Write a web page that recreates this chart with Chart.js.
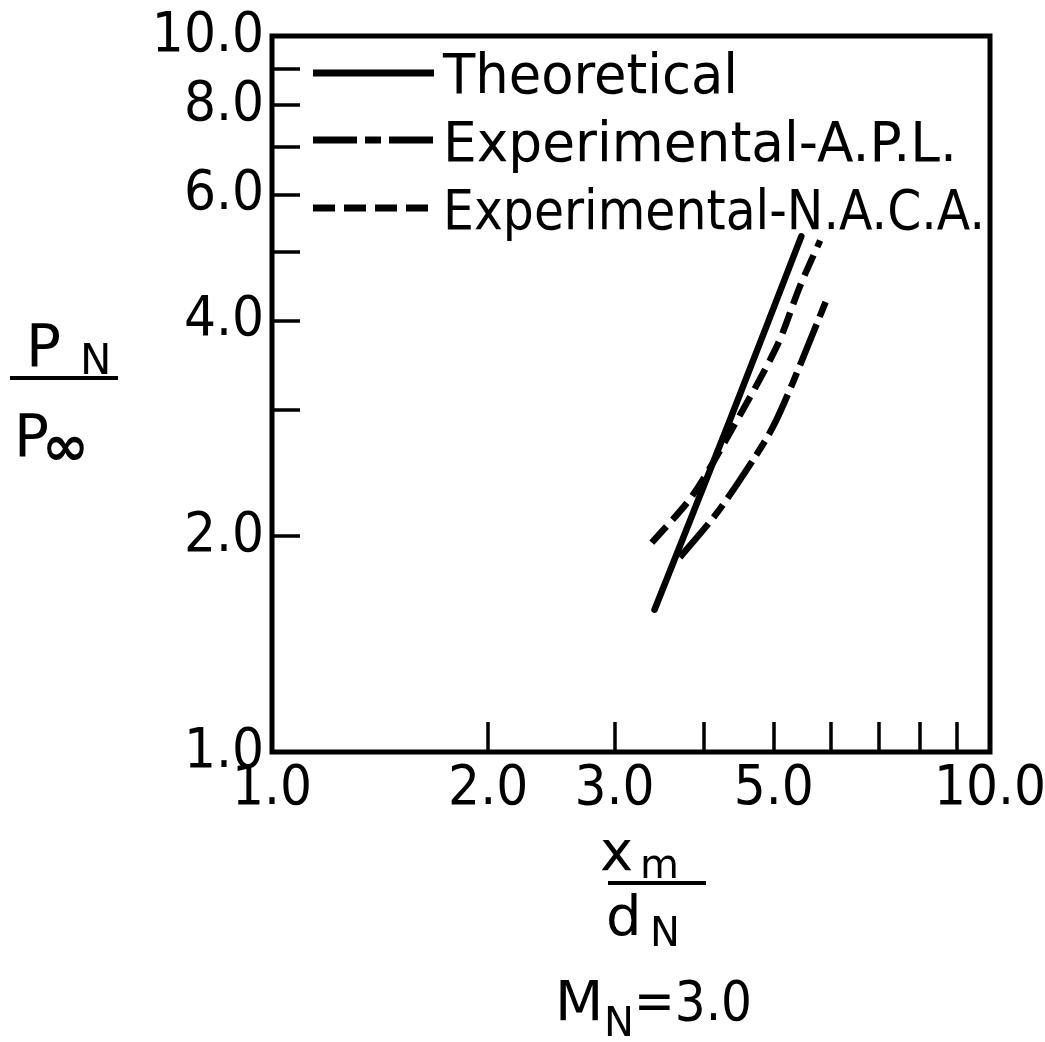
<!DOCTYPE html>
<html>
<head>
<meta charset="utf-8">
<script src="https://cdn.jsdelivr.net/npm/chart.js"></script>
<style>
  html, body { margin: 0; padding: 0; background: #fff; }
  #wrap { width: 1045px; height: 1042px; position: relative; }
</style>
</head>
<body>
<div id="wrap"><canvas id="nozzleChart"></canvas></div>
<script>
// Data (log-log axes)
const theoX = [3.41, 4.35, 5.46];
const theoY = [1.58, 2.92, 5.25];

const aplX = [3.70, 4.17, 4.68, 4.99, 5.32, 5.93];
const aplY = [1.87, 2.16, 2.56, 2.85, 3.29, 4.30];

const nacaX = [3.38, 3.85, 4.35, 5.05, 5.44, 5.80];
const nacaY = [1.96, 2.28, 2.80, 3.69, 4.48, 5.18];

const xTickVals = [1, 2, 3, 4, 5, 6, 7, 8, 9, 10];
const xTickLabels = { 1: '1.0', 2: '2.0', 3: '3.0', 5: '5.0', 10: '10.0' };
const yTickVals = [1, 2, 3, 4, 5, 6, 7, 8, 9, 10];
const yTickLabels = { 1: '1.0', 2: '2.0', 4: '4.0', 6: '6.0', 8: '8.0', 10: '10.0' };

const seriesNames = ['Theoretical', 'Experimental-A.P.L.', 'Experimental-N.A.C.A.'];

const FONT = 'DejaVu Sans';
const TICK_FONT = '"DejaVu Sans Condensed", "DejaVu Sans"';
const LINE_W = 6.5;
const DASH_APL = [44, 8, 16, 8];
const DASH_NACA = [22, 9];

function toPoints(xs, ys) {
    return xs.map((x, i) => ({ x: x, y: ys[i] }));
}

// Box, inward ticks, legend and axis titles
const decorPlugin = {
    id: 'decor',
    afterDraw(chart) {
        const ctx = chart.ctx;
        const a = chart.chartArea;
        const xs = chart.scales.x;
        const ys = chart.scales.y;
        ctx.save();
        ctx.strokeStyle = '#000';
        ctx.fillStyle = '#000';

        // frame
        ctx.lineWidth = 5;
        ctx.strokeRect(a.left, a.top, a.right - a.left, a.bottom - a.top);

        // inward ticks
        ctx.lineWidth = 3.5;
        ctx.beginPath();
        yTickVals.slice(1, -1).forEach(v => {
            const py = Math.round(ys.getPixelForValue(v));
            ctx.moveTo(a.left, py);
            ctx.lineTo(a.left + 28, py);
        });
        xTickVals.slice(1, -1).forEach(v => {
            const px = Math.round(xs.getPixelForValue(v));
            ctx.moveTo(px, a.bottom);
            ctx.lineTo(px, a.bottom - 30);
        });
        ctx.stroke();

        // legend
        const legendRows = [
            { y: 73, dash: [], text: seriesNames[0], w: 295, base: 93 },
            { y: 140, dash: DASH_APL, text: seriesNames[1], w: 514, base: 161 },
            { y: 208, dash: DASH_NACA, text: seriesNames[2], w: 542, base: 229 }
        ];
        ctx.lineWidth = 7;
        ctx.textAlign = 'left';
        ctx.textBaseline = 'alphabetic';
        ctx.font = '56px "' + FONT + '"';
        legendRows.forEach(r => {
            ctx.setLineDash(r.dash);
            ctx.beginPath();
            ctx.moveTo(313, r.y);
            ctx.lineTo(434, r.y);
            ctx.stroke();
            ctx.setLineDash([]);
            ctx.fillText(r.text, 443, r.base, r.w);
        });

        // y axis title  P_N / P_inf
        ctx.font = '58px "' + FONT + '"';
        ctx.fillText('P', 26, 366);
        ctx.fillText('P', 14, 456);
        ctx.font = '42px "' + FONT + '"';
        ctx.fillText('N', 80, 374);
        ctx.font = 'bold 56px "' + FONT + '"';
        ctx.fillText('\u221E', 42, 465, 50);
        ctx.lineWidth = 4;
        ctx.beginPath();
        ctx.moveTo(10, 378);
        ctx.lineTo(118, 378);
        ctx.stroke();

        // x axis title  x_m / d_N
        ctx.font = '56px "' + FONT + '"';
        ctx.fillText('x', 600, 870);
        ctx.fillText('d', 606, 935);
        ctx.font = '40px "' + FONT + '"';
        ctx.fillText('m', 640, 878);
        ctx.fillText('N', 650, 946);
        ctx.beginPath();
        ctx.moveTo(608, 883);
        ctx.lineTo(706, 883);
        ctx.stroke();

        // M_N = 3.0
        ctx.font = '56px "' + FONT + '"';
        ctx.fillText('M', 555, 1020);
        ctx.fillText('=3.0', 634, 1020, 118);
        ctx.font = '40px "' + FONT + '"';
        ctx.fillText('N', 604, 1036);

        ctx.restore();
    }
};

const lineStyle = {
    borderColor: '#000',
    borderWidth: LINE_W,
    pointRadius: 0,
    fill: false,
    tension: 0.3,
    borderCapStyle: 'butt'
};

new Chart(document.getElementById('nozzleChart'), {
    type: 'line',
    data: {
        datasets: [
            Object.assign({ label: seriesNames[0], data: toPoints(theoX, theoY), borderDash: [] }, lineStyle, { borderCapStyle: 'round' }),
            Object.assign({ label: seriesNames[1], data: toPoints(aplX, aplY), borderDash: DASH_APL }, lineStyle),
            Object.assign({ label: seriesNames[2], data: toPoints(nacaX, nacaY), borderDash: DASH_NACA }, lineStyle)
        ]
    },
    options: {
        responsive: true,
        maintainAspectRatio: false,
        animation: false,
        layout: { padding: { top: 36, right: 55, left: 0, bottom: 0 } },
        plugins: {
            legend: { display: false },
            tooltip: { enabled: false }
        },
        scales: {
            x: {
                type: 'logarithmic',
                min: 1,
                max: 10,
                grid: { display: false, drawTicks: false },
                border: { display: false },
                afterBuildTicks: s => { s.ticks = xTickVals.map(v => ({ value: v })); },
                afterFit: s => { s.height = 290; s.paddingLeft = 0; s.paddingRight = 0; },
                ticks: {
                    autoSkip: false,
                    maxRotation: 0,
                    padding: 4,
                    color: '#000',
                    font: { family: TICK_FONT, size: 56 },
                    callback: v => xTickLabels[v] || ''
                }
            },
            y: {
                type: 'logarithmic',
                min: 1,
                max: 10,
                grid: { display: false, drawTicks: false },
                border: { display: false },
                afterBuildTicks: s => { s.ticks = yTickVals.map(v => ({ value: v })); },
                afterFit: s => { s.width = 272; s.paddingTop = 0; s.paddingBottom = 0; },
                ticks: {
                    autoSkip: false,
                    padding: 8,
                    color: '#000',
                    font: { family: TICK_FONT, size: 56 },
                    callback: v => yTickLabels[v] || ''
                }
            }
        }
    },
    plugins: [decorPlugin]
});
</script>
</body>
</html>
